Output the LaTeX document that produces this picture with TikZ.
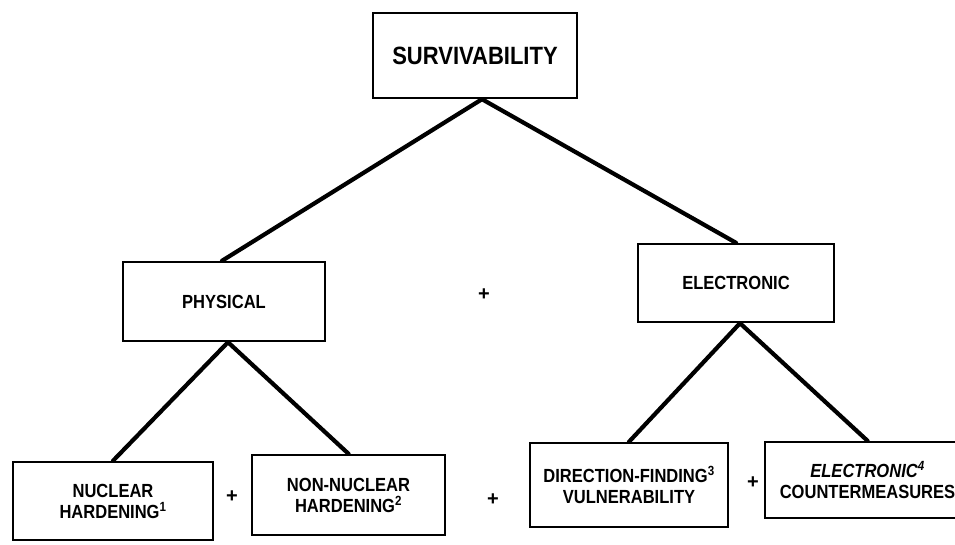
\documentclass[tikz,border=0pt]{standalone}
\usepackage{fontspec}
\setmainfont{Liberation Sans}
\newcommand{\nrw}[1]{\scalebox{0.87}[1]{#1}}
\begin{document}
\begin{tikzpicture}[x=1pt,y=-1pt,
  box/.style={draw=black,line width=2.4pt,rectangle,inner sep=0pt,align=center,
    font=\fontsize{19}{21}\selectfont\bfseries},
  conn/.style={line width=4.2pt,line cap=round},
  plus/.style={font=\fontsize{20}{20}\selectfont\bfseries,inner sep=0pt}]
\useasboundingbox (0,0) rectangle (955,545);
\clip (0,0) rectangle (955,545);
\node[box,minimum width=204pt,minimum height=85pt,font=\fontsize{25}{27}\selectfont\bfseries] (surv) at (475,55.5) {\scalebox{0.88}[1]{SURVIVABILITY}};
\node[box,minimum width=202pt,minimum height=79pt] (phys) at (224,301.5) {\nrw{PHYSICAL}};
\node[box,minimum width=196pt,minimum height=78pt] (elec) at (736,283) {\nrw{ELECTRONIC}};
\node[box,minimum width=200pt,minimum height=78pt] (nuc) at (113,501) {\nrw{NUCLEAR}\\\nrw{HARDENING\textsuperscript{1}}};
\node[box,minimum width=193pt,minimum height=80pt] (nonnuc) at (348.5,495) {\nrw{NON-NUCLEAR}\\\nrw{HARDENING\textsuperscript{2}}};
\node[box,minimum width=198pt,minimum height=84pt] (dir) at (629,485) {\nrw{DIRECTION-FINDING\textsuperscript{3}}\\\nrw{VULNERABILITY}};
\node[box,minimum width=205pt,minimum height=76pt] (ecm) at (867.5,480) {\nrw{\itshape ELECTRONIC\textsuperscript{4}}\\\nrw{COUNTERMEASURES}};
\node[plus] (p1) at (484,295) {+};
\node[plus] (p2) at (232,497) {+};
\node[plus] (p3) at (493,500) {+};
\node[plus] (p4) at (753,483) {+};
\draw[conn] ([xshift=7pt]surv.south) -- ([xshift=-2pt]phys.north);
\draw[conn] ([xshift=7pt]surv.south) -- (elec.north);
\draw[conn] ([xshift=4pt]phys.south) -- (nuc.north);
\draw[conn] ([xshift=4pt]phys.south) -- (nonnuc.north);
\draw[conn] ([xshift=4pt]elec.south) -- (dir.north);
\draw[conn] ([xshift=4pt]elec.south) -- (ecm.north);
\end{tikzpicture}
\end{document}
